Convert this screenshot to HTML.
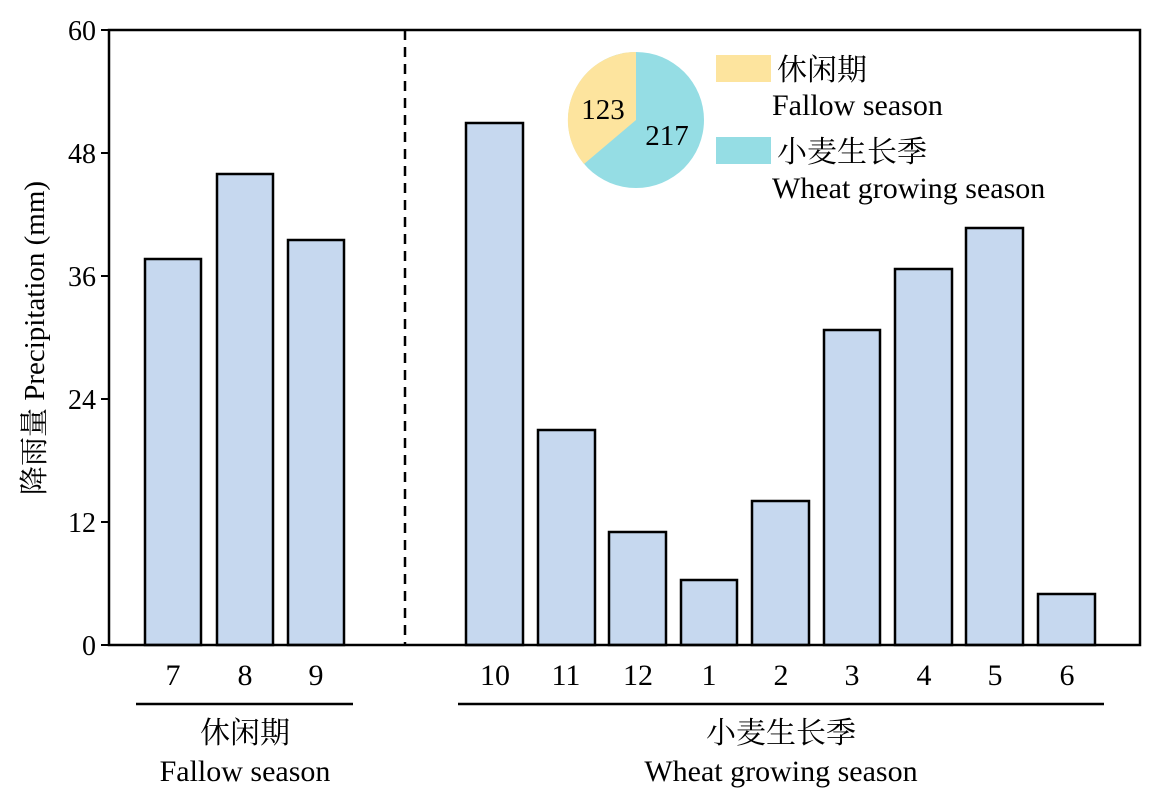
<!DOCTYPE html>
<html><head><meta charset="utf-8"><style>
body{margin:0;background:#fff}
svg text{font-family:"Liberation Serif","Noto Serif CJK SC",serif;fill:#000}
</style></head><body>
<svg width="1155" height="805" viewBox="0 0 1155 805">
<g fill="#c6d8ef" stroke="#000" stroke-width="2.5">
<rect x="145" y="259" width="56" height="386"/>
<rect x="217" y="174" width="56" height="471"/>
<rect x="288" y="240" width="56" height="405"/>
<rect x="466" y="123" width="57" height="522"/>
<rect x="538" y="430" width="57" height="215"/>
<rect x="609" y="532" width="57" height="113"/>
<rect x="681" y="580" width="56" height="65"/>
<rect x="752" y="501" width="57" height="144"/>
<rect x="824" y="330" width="56" height="315"/>
<rect x="895" y="269" width="57" height="376"/>
<rect x="966" y="228" width="57" height="417"/>
<rect x="1038" y="594" width="57" height="51"/>
</g>
<rect x="109" y="30" width="1031" height="615" fill="none" stroke="#000" stroke-width="2.5"/>
<line x1="405" y1="30" x2="405" y2="645" stroke="#000" stroke-width="2.5" stroke-dasharray="10,7"/>
<g stroke="#000" stroke-width="2">
<line x1="101" y1="30" x2="109" y2="30"/><line x1="101" y1="153" x2="109" y2="153"/>
<line x1="101" y1="276" x2="109" y2="276"/><line x1="101" y1="399" x2="109" y2="399"/>
<line x1="101" y1="522" x2="109" y2="522"/><line x1="101" y1="645" x2="109" y2="645"/>
</g>
<g font-size="28" text-anchor="end">
<text x="96" y="40">60</text><text x="96" y="163">48</text><text x="96" y="286">36</text>
<text x="96" y="409">24</text><text x="96" y="532">12</text><text x="96" y="655">0</text>
</g>
<text transform="translate(44,338) rotate(-90)" font-size="29" text-anchor="middle">降雨量 Precipitation (mm)</text>
<g font-size="30" text-anchor="middle">
<text x="173" y="685">7</text><text x="245" y="685">8</text><text x="316" y="685">9</text>
<text x="495" y="685">10</text><text x="566" y="685">11</text><text x="638" y="685">12</text>
<text x="709" y="685">1</text><text x="781" y="685">2</text><text x="852" y="685">3</text>
<text x="924" y="685">4</text><text x="995" y="685">5</text><text x="1067" y="685">6</text>
<text x="245" y="743">休闲期</text><text x="245" y="781">Fallow season</text>
<text x="781" y="743">小麦生长季</text><text x="781" y="781">Wheat growing season</text>
</g>
<line x1="136" y1="704" x2="353" y2="704" stroke="#000" stroke-width="2.5"/>
<line x1="458" y1="704" x2="1104" y2="704" stroke="#000" stroke-width="2.5"/>
<circle cx="636" cy="120" r="68" fill="#95dde4"/>
<path d="M636,120 L636,52 A68,68 0 0 0 584,164 Z" fill="#fde49e"/>
<text x="603" y="119" font-size="29" text-anchor="middle">123</text>
<text x="667" y="145" font-size="29" text-anchor="middle">217</text>
<rect x="716" y="55" width="55" height="27" fill="#fde49e"/>
<rect x="716" y="137" width="55" height="27" fill="#95dde4"/>
<g font-size="30">
<text x="777" y="80">休闲期</text><text x="772" y="115">Fallow season</text>
<text x="777" y="162">小麦生长季</text><text x="772" y="198">Wheat growing season</text>
</g>
</svg>
</body></html>
